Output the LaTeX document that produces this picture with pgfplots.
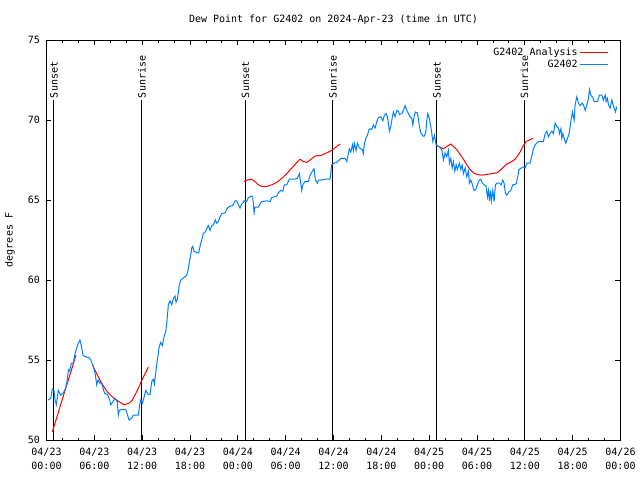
\documentclass[border=0pt]{standalone}
\usepackage{pgfplots}
\pgfplotsset{compat=1.18}
\usepackage{fontspec}
\setmainfont{DejaVu Sans Mono}
\definecolor{anared}{RGB}{255,0,0}
\definecolor{obsblue}{RGB}{0,128,255}
\begin{document}
\fontsize{10pt}{11.5pt}\selectfont
\begin{tikzpicture}
\path[use as bounding box] (-46.5pt,-40pt) rectangle (593.5pt,440pt);
\begin{axis}[
  at={(0pt,0pt)}, anchor=south west,
  scale only axis, width=574pt, height=400pt,
  xmin=0, xmax=72, ymin=50, ymax=75,
  xtick={0,6,...,72},
  xticklabels={{04/23\\00:00},{04/23\\06:00},{04/23\\12:00},{04/23\\18:00},{04/24\\00:00},{04/24\\06:00},{04/24\\12:00},{04/24\\18:00},{04/25\\00:00},{04/25\\06:00},{04/25\\12:00},{04/25\\18:00},{04/26\\00:00}},
  xticklabel style={align=center, font=\fontsize{10pt}{13.5pt}\selectfont, yshift=-5pt},
  yticklabel style={xshift=-3pt},
  minor x tick num=2,
  ytick={50,55,...,75},
  /pgf/number format/assume math mode=true,
  tick align=inside,
  major tick length=5pt, minor tick length=2.5pt,
  tick style={black, line width=0.8pt},
  axis line style={black, line width=1pt},
  title={Dew Point for G2402 on 2024-Apr-23 (time in UTC)},
  title style={at={(axis description cs:0.5,1.035)}, anchor=center},
  ylabel={degrees F},
  ylabel style={at={(axis description cs:-0.0636,0.5)}, anchor=center},
  legend style={at={(rel axis cs:0.985,0.99)}, anchor=north east, draw=none, fill=none, row sep=-1.5pt},
  legend cell align=right,
  legend plot pos=right,
  legend image code/.code={\draw[#1] (0pt,0pt) -- (28pt,0pt);},
  unbounded coords=jump,
  clip=false,
]
% sunrise / sunset markers
\addplot[black, line width=1pt, forget plot] coordinates {(0.94,50) (0.94,71.25)};
\addplot[black, line width=1pt, forget plot] coordinates {(11.97,50) (11.97,71.25)};
\addplot[black, line width=1pt, forget plot] coordinates {(24.97,50) (24.97,71.25)};
\addplot[black, line width=1pt, forget plot] coordinates {(35.92,50) (35.92,71.25)};
\addplot[black, line width=1pt, forget plot] coordinates {(48.98,50) (48.98,71.25)};
\addplot[black, line width=1pt, forget plot] coordinates {(59.95,50) (59.95,71.25)};
\node[rotate=90, anchor=west, inner sep=1pt] at (axis cs:0.94,71.3) {Sunset};
\node[rotate=90, anchor=west, inner sep=1pt] at (axis cs:11.97,71.3) {Sunrise};
\node[rotate=90, anchor=west, inner sep=1pt] at (axis cs:24.97,71.3) {Sunset};
\node[rotate=90, anchor=west, inner sep=1pt] at (axis cs:35.92,71.3) {Sunrise};
\node[rotate=90, anchor=west, inner sep=1pt] at (axis cs:48.98,71.3) {Sunset};
\node[rotate=90, anchor=west, inner sep=1pt] at (axis cs:59.95,71.3) {Sunrise};
% analysis
\addplot[anared, line width=1pt] table {
x y
0.73 50.5
2.20 52.9
3.70 55.3
4.5 nan
5.75 54.7
6.80 53.65
7.63 53.0
8.47 52.6
9.10 52.4
9.72 52.2
10.35 52.3
10.77 52.5
11.39 53.1
12.02 53.8
12.77 54.55
20 nan
24.78 66.15
25.19 66.25
25.75 66.3
26.16 66.15
26.57 65.95
27.00 65.85
27.63 65.85
28.26 65.95
28.88 66.1
29.51 66.35
30.14 66.65
30.77 67.0
31.39 67.35
31.81 67.55
32.22 67.4
32.65 67.35
33.06 67.5
33.69 67.75
34.53 67.8
35.16 67.95
35.78 68.1
36.41 68.35
36.83 68.5
42 nan
48.87 68.45
49.37 68.3
49.79 68.2
50.21 68.35
50.72 68.5
51.04 68.35
51.47 68.15
51.88 67.85
52.30 67.55
52.72 67.2
53.14 66.9
53.55 66.7
53.98 66.6
54.61 66.55
55.23 66.6
55.86 66.65
56.49 66.7
56.90 66.85
57.32 67.05
57.74 67.25
58.37 67.4
58.78 67.55
59.07 67.75
59.41 68.0
59.75 68.35
60.16 68.65
61.00 68.85
};
\addlegendentry{G2402 Analysis}
% observations
\addplot[obsblue, line width=1pt] table {
x y
0.19 52.5
0.53 52.6
0.73 53.2
0.94 53.1
1.07 52.5
1.23 52.2
1.48 53.1
1.78 52.8
2.11 52.95
2.41 53.25
2.61 53.75
2.74 54.4
2.91 54.3
3.11 54.8
3.36 54.8
3.58 55.4
3.79 55.75
3.99 56.05
4.20 56.25
4.37 55.9
4.58 55.3
4.92 55.2
5.33 55.15
5.55 55.0
5.87 54.6
6.09 54.2
6.30 53.45
6.46 53.75
6.71 53.55
6.88 53.6
7.09 53.25
7.30 52.9
7.63 52.85
7.93 52.5
8.06 52.2
8.34 52.4
8.59 52.6
8.88 52.4
9.01 51.55
9.13 51.85
9.39 51.9
9.94 51.9
10.14 51.6
10.35 51.25
10.64 51.35
10.89 51.55
11.52 51.55
11.69 52.2
11.82 52.5
12.02 52.3
12.23 52.65
12.45 53.1
12.74 52.85
12.99 52.85
13.20 53.65
13.40 53.8
13.53 53.5
13.70 54.2
13.90 55.0
14.03 55.4
14.15 55.85
14.33 56.1
14.53 55.9
14.74 56.45
14.96 56.8
15.08 57.3
15.21 58.0
15.28 58.45
15.50 58.7
15.71 58.45
15.91 58.85
16.12 59.0
16.25 58.6
16.41 58.8
16.54 59.25
16.66 59.7
16.84 60.0
17.09 60.1
17.38 60.2
17.59 60.3
17.79 60.7
17.92 61.15
18.09 61.55
18.22 62.0
18.34 62.1
18.51 61.8
18.85 61.7
19.10 61.7
19.26 62.1
19.47 62.5
19.67 62.9
19.89 63.0
20.10 63.2
20.30 63.4
20.51 63.1
20.73 63.4
20.93 63.45
21.18 63.75
21.36 63.55
21.56 63.65
21.77 63.95
21.98 64.15
22.40 64.2
22.69 64.5
22.94 64.6
23.36 64.65
23.65 64.95
23.86 64.95
24.07 64.7
24.28 64.5
24.49 64.75
24.69 64.85
24.78 64.95
25.12 64.9
25.32 65.15
25.75 65.25
25.87 65.2
26.04 64.2
26.16 64.55
26.57 64.55
26.79 64.75
27.00 64.9
27.63 64.95
28.04 64.9
28.26 65.15
28.88 65.25
29.08 65.45
29.39 65.6
29.64 65.55
29.84 65.95
30.14 65.95
30.46 66.3
31.05 66.3
31.47 66.35
31.72 66.65
32.02 65.6
32.15 65.95
32.43 66.15
32.85 66.15
33.06 66.55
33.35 66.8
33.56 66.95
33.73 66.25
33.98 66.05
34.10 66.25
34.53 66.25
34.94 66.3
35.57 66.3
35.78 67.2
36.07 67.3
36.41 67.35
36.74 67.5
36.91 67.6
37.45 67.6
37.67 67.4
37.87 67.9
37.99 68.2
38.17 68.0
38.37 68.45
38.49 68.1
38.62 68.55
38.83 68.1
39.00 68.55
39.21 68.3
39.42 68.2
39.62 68.15
39.75 67.9
39.87 68.5
40.05 68.85
40.25 69.05
40.46 69.4
40.59 69.45
40.80 69.4
41.00 69.7
41.22 69.5
41.43 69.9
41.63 70.15
41.93 70.2
42.18 69.95
42.38 70.3
42.60 70.4
42.76 70.2
42.89 69.8
43.01 69.3
43.19 69.6
43.35 70.1
43.51 70.5
43.73 70.2
43.94 70.6
44.14 70.55
44.27 70.35
44.57 70.4
44.77 70.6
44.98 70.9
45.19 70.6
45.40 70.4
45.61 70.2
45.82 70.1
45.95 69.7
46.11 70.2
46.27 70.5
46.52 70.45
46.65 70.05
46.78 69.6
46.95 69.2
47.20 69.0
47.40 69.0
47.58 69.25
47.70 70.0
47.83 70.4
48.03 70.1
48.24 69.5
48.46 68.65
48.66 69.05
48.87 68.45
49.16 68.35
49.37 68.3
49.59 68.1
49.79 67.5
50.00 67.95
50.21 67.7
50.41 68.1
50.54 67.3
50.72 67.6
50.88 67.0
51.04 67.4
51.22 66.8
51.38 67.2
51.54 66.9
51.79 67.3
51.97 66.9
52.13 67.2
52.30 66.65
52.51 67.0
52.72 66.45
52.92 66.8
53.05 66.05
53.22 66.25
53.43 65.95
53.64 65.6
53.85 65.65
54.05 65.95
54.27 66.25
54.48 66.3
54.68 66.05
54.89 65.95
55.11 65.9
55.31 65.2
55.43 65.6
55.56 64.95
55.68 65.6
55.81 64.95
55.98 65.6
56.15 64.9
56.31 65.95
56.49 66.05
56.81 66.05
57.03 65.95
57.24 66.25
57.40 66.05
57.57 65.4
57.74 65.3
57.99 65.5
58.24 65.6
58.49 65.95
58.91 66.0
59.07 66.35
59.25 66.9
59.41 66.95
59.75 67.05
60.04 67.0
60.25 67.3
60.67 67.3
61.08 68.2
61.29 68.45
61.71 68.65
62.33 68.65
62.55 69.15
62.76 69.3
62.96 68.95
63.17 69.15
63.39 69.3
63.59 69.15
63.80 69.8
64.01 69.6
64.22 69.5
64.34 69.15
64.52 69.45
64.64 68.85
64.77 69.15
64.93 68.85
65.14 68.55
65.35 68.85
65.56 69.15
65.77 69.9
65.97 70.5
66.19 70.0
66.31 70.95
66.52 71.45
66.73 71.05
66.94 70.9
67.15 71.05
67.35 70.95
67.57 70.6
67.78 70.95
67.98 71.35
68.11 71.9
68.28 71.55
68.53 71.4
68.69 71.15
69.11 71.15
69.36 71.55
69.66 71.55
69.86 71.25
70.08 71.55
70.20 71.15
70.36 71.35
70.49 70.95
70.70 70.75
70.92 71.25
71.04 71.0
71.24 70.7
71.37 70.5
71.54 70.85
};
\addlegendentry{G2402}
\end{axis}
\end{tikzpicture}
\end{document}
